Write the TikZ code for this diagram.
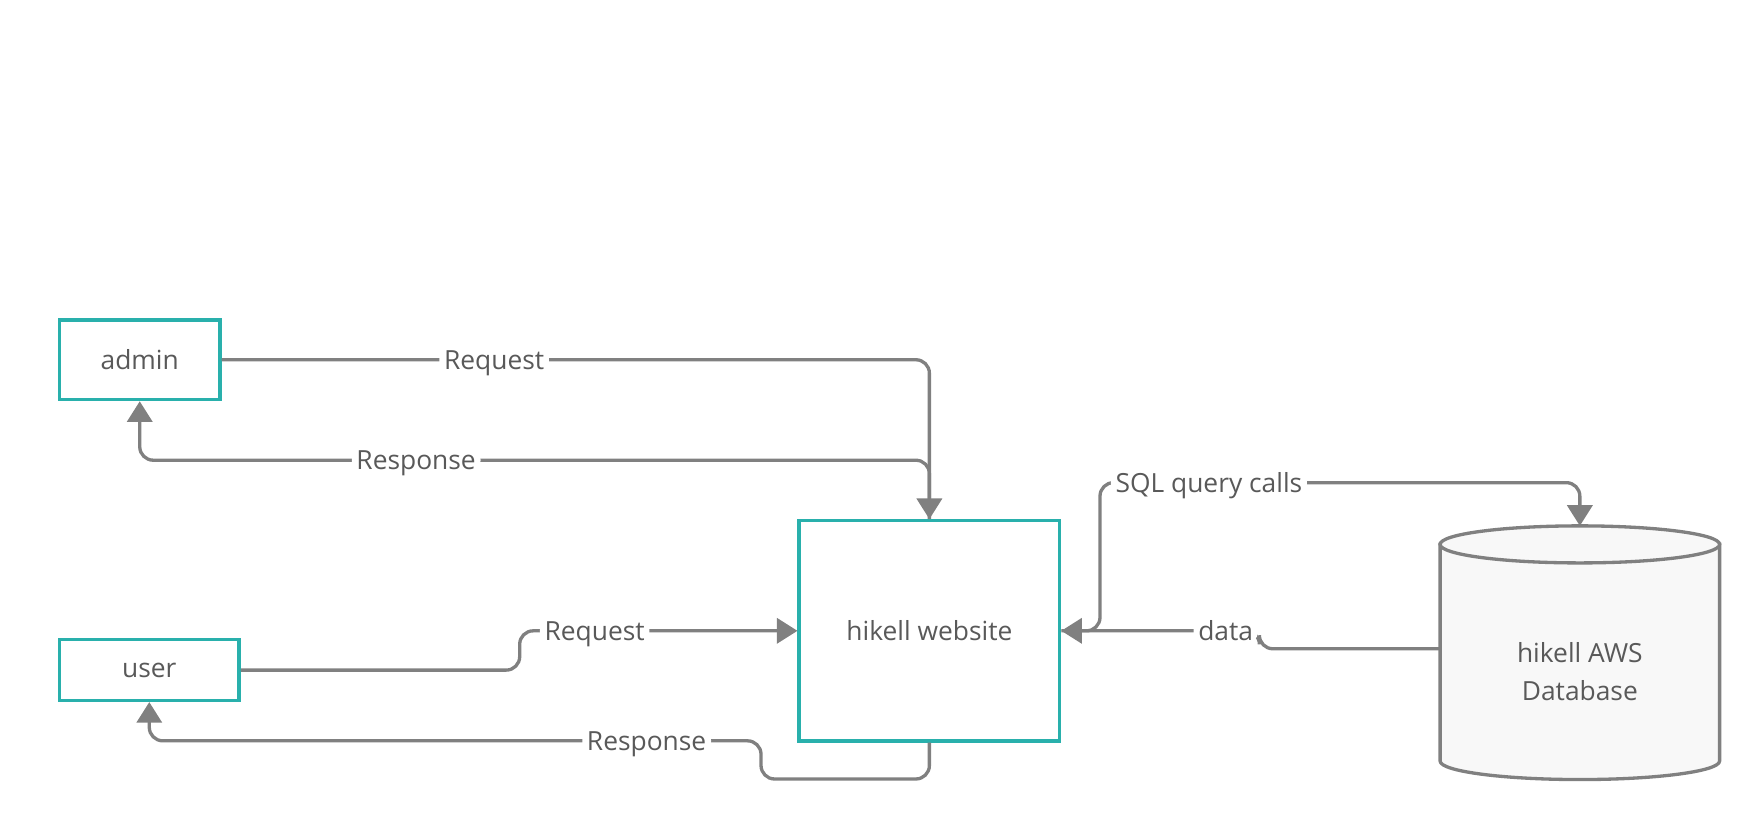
\documentclass[tikz,border=0pt]{standalone}
\usepackage{fontspec}
\setmainfont{Open Sans}
\usepackage{tikz}
\usetikzlibrary{arrows.meta,positioning}
\definecolor{boxteal}{RGB}{41,176,172}
\definecolor{wire}{RGB}{128,128,128}
\definecolor{ink}{RGB}{89,89,89}
\definecolor{dbfill}{RGB}{248,248,248}

\begin{document}
\begin{tikzpicture}[x=0.025cm, y=-0.025cm,
      entity/.style={rectangle, draw=boxteal, line width=2.1pt, fill=white, text=ink,
        font=\fontsize{16.7}{20}\selectfont, inner sep=0pt},
      lbl/.style={fill=white, text=ink, font=\fontsize{16.7}{20}\selectfont, inner sep=3pt,
        text height=12pt, text depth=0pt},
      arr/.style={-{Triangle[length=0.46cm, width=0.56cm]}, line width=2.1pt, color=wire,
        rounded corners=0.3cm}
    ]
      \useasboundingbox (0,0) rectangle (1568,731);
      % actors and website
      \node[entity, minimum width=3.575cm, minimum height=1.775cm] (admin) at (124.5,320.5) {admin};
      \node[entity, minimum width=4cm, minimum height=1.35cm] (user) at (133,597) {user};
      \node[entity, minimum width=5.8cm, minimum height=4.9cm] (web) at (828,562) {hikell website};
      % database cylinder
      \draw[wire, line width=2.1pt, fill=dbfill] (1283,485) -- (1283,678)
        arc[start angle=180, end angle=0, x radius=124.5, y radius=16.5] -- (1532,485) -- cycle;
      \draw[wire, line width=2.1pt, fill=dbfill] (1407.5,485) ellipse [x radius=124.5, y radius=16.5];
      \coordinate (dbtop) at (1407.5,468.5);
      \coordinate (dbleft) at (1283,578);
      \node[text=ink, font=\fontsize{16.7}{24.2}\selectfont, align=center] (db) at (1407.5,598)
        {hikell AWS\\Database};
      % flows
      \draw[arr] (admin.east) -- node[lbl, pos=0.385]{Request} (admin.east -| web.north) -- (web.north);
      \draw[arr] (web.north) -- (828,410) -- node[lbl, pos=0.65]{Response} (admin.south |- 0,410)
        -- (admin.south);
      \draw[arr] (user.east) -- (463,597) -- (463,562) -- node[lbl, pos=0.27]{Request} (web.west);
      \draw[arr] (web.south) -- (828,694) -- (678,694) -- (678,660)
        -- node[lbl, pos=0.187]{Response} (user.south |- 0,660) -- (user.south);
      \draw[arr] (web.east) -- (980,562) -- (980,430) -- node[lbl, pos=0.227]{SQL query calls}
        (dbtop |- 0,430) -- (dbtop);
      \draw[arr] (dbleft) -- (1122,578) -- (1122,562) -- node[lbl, pos=0.17]{data} (web.east);
    \end{tikzpicture}
\end{document}
